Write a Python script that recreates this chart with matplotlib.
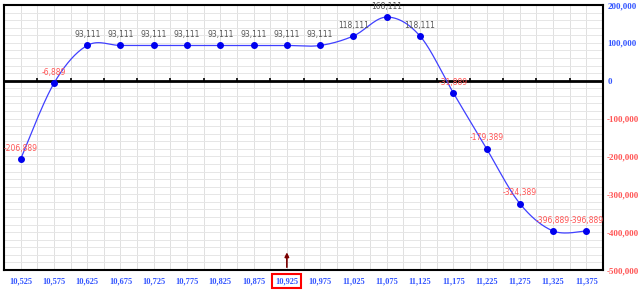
import numpy as np
import matplotlib
matplotlib.use('Agg')
import matplotlib.pyplot as plt

# strike prices and profit/loss values
strikes = ['10,525', '10,575', '10,625', '10,675', '10,725', '10,775', '10,825', '10,875', '10,925',
           '10,975', '11,025', '11,075', '11,125', '11,175', '11,225', '11,275', '11,325', '11,375']
values = [-206889, -6889, 93111, 93111, 93111, 93111, 93111, 93111, 93111,
          93111, 118111, 168111, 118111, -31889, -179389, -324389, -396889, -396889]
y_ticks = [200000, 100000, 0, -100000, -200000, -300000, -400000, -500000]
current = '10,925'


def smooth(xs, ys, n=30):
    # bezier smoothing like a spreadsheet "smoothed line"
    xs = np.asarray(xs, float)
    ys = np.asarray(ys, float)
    px = np.concatenate([[xs[0]], xs, [xs[-1]]])
    py = np.concatenate([[ys[0]], ys, [ys[-1]]])
    out_x, out_y = [], []
    t = np.linspace(0, 1, n)
    for i in range(len(xs) - 1):
        p0 = np.array([px[i], py[i]])
        p1 = np.array([px[i + 1], py[i + 1]])
        p2 = np.array([px[i + 2], py[i + 2]])
        p3 = np.array([px[i + 3], py[i + 3]])
        c1 = p1 + (p2 - p0) / 6
        c2 = p2 - (p3 - p1) / 6
        b = ((1 - t) ** 3)[:, None] * p1 + (3 * (1 - t) ** 2 * t)[:, None] * c1 \
            + (3 * (1 - t) * t ** 2)[:, None] * c2 + (t ** 3)[:, None] * p2
        out_x.extend(b[:, 0])
        out_y.extend(b[:, 1])
    return out_x, out_y


x = np.arange(len(strikes))
fig = plt.figure(figsize=(6.4, 2.9), dpi=100)
ax = fig.add_axes([4 / 640, 20 / 290, 599 / 640, 265 / 290])

ax.set_xlim(-0.5, len(strikes) - 0.5)
ax.set_ylim(-500000, 200000)

# grid
for gx in np.arange(-0.5, len(strikes), 0.5):
    ax.axvline(gx, color='#e0e0e0', lw=0.7, zorder=0)
for gy in range(-500000, 200001, 20000):
    ax.axhline(gy, color='#e6e6e6', lw=0.7, zorder=0)

ax.axhline(0, color='black', lw=2, zorder=2)
ax.vlines(np.arange(0.5, len(strikes) - 1, 1), 0, 6000, color='black', lw=1.2, zorder=2)

sx, sy = smooth(x, values)
ax.plot(sx, sy, color='#4040ff', lw=0.9, zorder=3)
ax.plot(x, values, 'o', color='#0000ee', ms=4, zorder=4)

for xi, v in zip(x, values):
    col = '#555555' if v >= 0 else '#ff5555'
    ax.annotate(f'{v:,}', (xi, v), xytext=(0, 4.5), textcoords='offset points',
                ha='center', va='bottom', fontsize=5.5, color=col, zorder=5)

# arrow at current price
ci = strikes.index(current)
ax.annotate('', xy=(ci, -446000), xytext=(ci, -500000),
            arrowprops=dict(arrowstyle='-|>', color='#7a0000', lw=1.2, mutation_scale=6))

for s in ax.spines.values():
    s.set_linewidth(1.5)
    s.set_color('black')

ax.set_xticks(x)
ax.set_xticklabels(strikes)
ax.tick_params(axis='x', length=0, pad=5)
for lab in ax.get_xticklabels():
    lab.set_fontfamily('Liberation Serif')
    lab.set_fontweight('bold')
    lab.set_fontsize(6)
    lab.set_color('#3355ff')
    if lab.get_text() == current:
        lab.set_bbox(dict(facecolor='none', edgecolor='red', lw=1.5, pad=2.2))

ax.yaxis.tick_right()
ax.set_yticks(y_ticks)
ax.set_yticklabels([f'{v:,}' for v in y_ticks])
ax.tick_params(axis='y', length=0, pad=3)
for lab, v in zip(ax.get_yticklabels(), y_ticks):
    lab.set_fontfamily('Liberation Serif')
    lab.set_fontweight('bold')
    lab.set_fontsize(6.5)
    lab.set_color('#3355ff' if v >= 0 else '#ff5555')

fig.savefig('out.png', dpi=100)
